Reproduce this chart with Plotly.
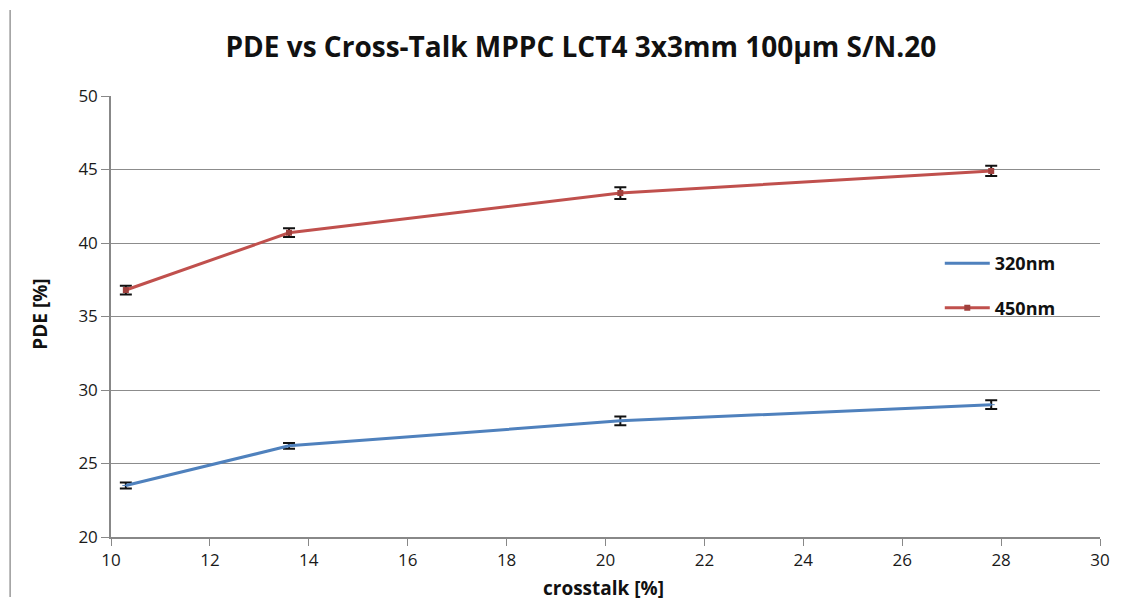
import plotly.graph_objects as go

crosstalk = [10.3, 13.6, 20.3, 27.8]
pde_320 = [23.5, 26.2, 27.9, 29.0]
err_320 = [0.2, 0.2, 0.3, 0.3]
pde_450 = [36.8, 40.7, 43.4, 44.9]
err_450 = [0.3, 0.3, 0.4, 0.35]

fig = go.Figure()
fig.add_trace(go.Scatter(
    x=crosstalk, y=pde_320, name="<b>320nm</b>", mode="lines+markers", legendgroup="a",
    line=dict(color="#4F81BD", width=3),
    marker=dict(symbol="line-ew", size=5, color="#4F81BD", line=dict(width=1, color="#4F81BD")),
    error_y=dict(type="data", array=err_320, visible=True, color="#111111", thickness=2, width=6),
))
fig.add_trace(go.Scatter(
    x=crosstalk, y=pde_450, name="<b>450nm</b>", mode="lines+markers", legendgroup="b",
    line=dict(color="#C0504D", width=3),
    marker=dict(symbol="square", size=6, color="#A0403D"),
    error_y=dict(type="data", array=err_450, visible=True, color="#111111", thickness=2, width=6),
))

font = "Open Sans"
fig.update_layout(
    width=1121, height=593,
    paper_bgcolor="white", plot_bgcolor="white",
    margin=dict(l=103, r=29, t=88, b=64, autoexpand=False),
    title=dict(text="<b>PDE vs Cross-Talk MPPC LCT4 3x3mm 100µm S/N.20</b>",
               x=0.511, xanchor="center", y=0.934, yanchor="middle",
               font=dict(family=font, size=28, color="#111111")),
    showlegend=True,
    legend=dict(x=0.838, y=0.662, xanchor="left", yanchor="top",
                font=dict(family=font, size=18, color="#111111"),
                bgcolor="rgba(0,0,0,0)", tracegroupgap=18, itemwidth=45),
    font=dict(family=font, color="#222222"),
)
fig.update_xaxes(range=[10, 30], dtick=2, tick0=10, showgrid=False, automargin=False,
                 showline=True, linecolor="#888888", linewidth=1.5,
                 ticks="outside", ticklen=7, tickcolor="#888888",
                 tickfont=dict(family=font, size=17, color="#1a1a1a"),
                 zeroline=False)
fig.update_yaxes(range=[20, 50], dtick=5, tick0=20, showgrid=True, automargin=False,
                 gridcolor="#8c8c8c", gridwidth=1.2,
                 showline=True, linecolor="#888888", linewidth=1.5,
                 ticks="outside", ticklen=8, tickcolor="#888888",
                 tickfont=dict(family=font, size=17, color="#1a1a1a"),
                 zeroline=False)
fig.add_annotation(text="<b>crosstalk [%]</b>", xref="paper", yref="paper",
                   x=0.498, y=-0.116, xanchor="center", yanchor="middle", showarrow=False,
                   font=dict(family=font, size=19, color="#111111"))
fig.add_annotation(text="<b>PDE [%]</b>", xref="paper", yref="paper", textangle=-90,
                   x=-0.072, y=0.506, xanchor="center", yanchor="middle", showarrow=False,
                   font=dict(family=font, size=19, color="#111111"))
fig.add_shape(type="line", xref="paper", yref="paper",
              x0=-0.102, x1=-0.102, y0=-0.136, y1=1.195,
              line=dict(color="#999999", width=1.5))

fig.write_html("out.html")
